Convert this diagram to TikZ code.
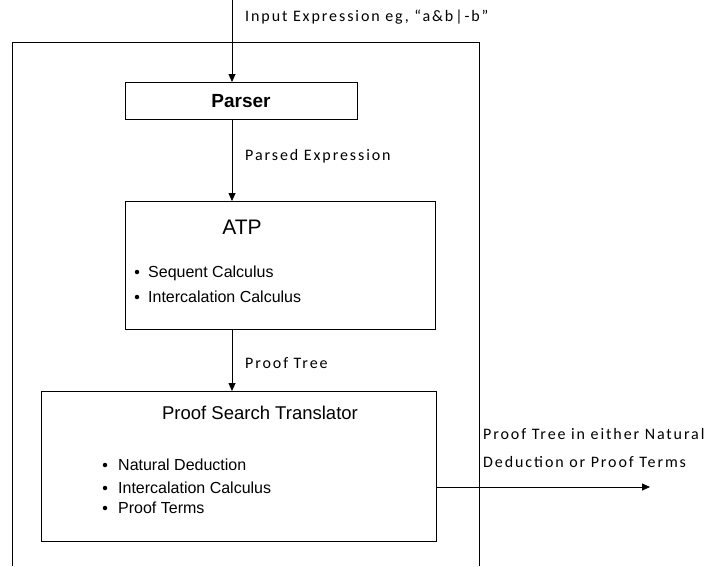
\documentclass[tikz,border=0pt]{standalone}
\usepackage{fontspec}
\setmainfont{Liberation Sans}
\newfontfamily\lblfont{Carlito}[LetterSpace=12]
\usetikzlibrary{arrows.meta}
\begin{document}
\begin{tikzpicture}[x=1pt,y=-1pt,
  box/.style={draw,line width=0.8pt,inner sep=0pt},
  conn/.style={line width=0.8pt,-{Triangle[length=8pt,width=7pt]}},
  lbl/.style={font=\lblfont\fontsize{16}{18}\selectfont,anchor=base west,inner sep=0pt},
  title/.style={font=\fontsize{18.5}{20}\selectfont,anchor=base,inner sep=0pt},
  item/.style={font=\fontsize{16}{18}\selectfont,anchor=base west,inner sep=0pt},
  dot/.style={circle,fill,inner sep=0pt,minimum size=4.5pt}]
\useasboundingbox (0,0) rectangle (712,566);
% outer frame
\draw[line width=0.8pt] (12,566) -- (12,42) -- (479,42) -- (479,566);
% boxes
\node[box,minimum width=232pt,minimum height=37pt,anchor=north west] (parser) at (125,82) {};
\node[title,font=\bfseries\fontsize{19}{21}\selectfont] (parsert) at (241,107) {Parser};
\node[box,minimum width=310pt,minimum height=128pt,anchor=north west] (atp) at (125,201) {};
\node[title,font=\fontsize{21}{23}\selectfont] (atpt) at (242,234) {ATP};
\node[dot] (d1) at (137,272) {};
\node[item] (i1) at (148,277) {Sequent Calculus};
\node[dot] (d2) at (137,297) {};
\node[item] (i2) at (148,302) {Intercalation Calculus};
\node[box,minimum width=395pt,minimum height=150pt,anchor=north west] (pst) at (41,391) {};
\node[title] (pstt) at (260,419) {Proof Search Translator};
\node[dot] (d3) at (105,465) {};
\node[item] (i3) at (118,470) {Natural Deduction};
\node[dot] (d4) at (105,488) {};
\node[item] (i4) at (118,493) {Intercalation Calculus};
\node[dot] (d5) at (105,508) {};
\node[item] (i5) at (118,513) {Proof Terms};
% connectors
\coordinate (in) at (232,0);
\coordinate (out) at (650,487);
\draw[conn] (in) -- (in |- parser.north);
\draw[conn] (parser.south -| in) -- (atp.north -| in);
\draw[conn] (atp.south -| in) -- (pst.north -| in);
\draw[conn] (pst.east |- out) -- (out);
% labels
\node[lbl] (l1) at (245,21) {Input Expression eg, “a\&b|-b”};
\node[lbl] (l2) at (245,160) {Parsed Expression};
\node[lbl] (l3) at (245,368) {Proof Tree};
\node[lbl] (l4) at (483,439) {Proof Tree in either  Natural};
\node[lbl] (l5) at (483,467) {Deduction or Proof Terms};
\end{tikzpicture}
\end{document}
